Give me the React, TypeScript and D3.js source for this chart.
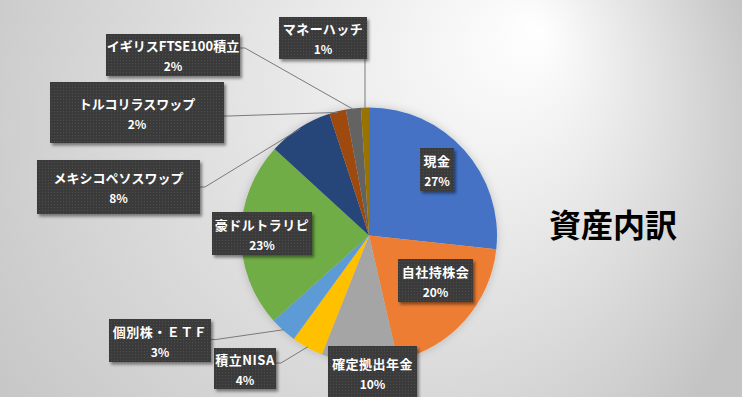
import React from "react";
import * as d3 from "d3";

const categories = [
  "現金",
  "自社持株会",
  "確定拠出年金",
  "積立NISA",
  "個別株・ＥＴＦ",
  "豪ドルトラリピ",
  "メキシコペソスワップ",
  "トルコリラスワップ",
  "イギリスFTSE100積立",
  "マネーハッチ",
];
const values = [26.7, 19.7, 9.6, 4.0, 3.4, 23.4, 8.2, 2.1, 1.9, 1.0];
const colors = [
  "#4472C4",
  "#ED7D31",
  "#A5A5A5",
  "#FFC000",
  "#5B9BD5",
  "#70AD47",
  "#264478",
  "#9E480E",
  "#636363",
  "#997300",
];
const title = "資産内訳";

// label box layout (x, y, w, h) and leader anchor
type Lay = { x: number; y: number; w: number; h: number; leader?: "right" | "bottom"; ay?: number };
const layout: Lay[] = [
  { x: 420, y: 148, w: 34, h: 43 },
  { x: 398, y: 259, w: 75, h: 43 },
  { x: 328, y: 346, w: 89, h: 53 },
  { x: 214, y: 348, w: 62, h: 41, leader: "right", ay: 363 },
  { x: 109, y: 319, w: 102, h: 43, leader: "right", ay: 339.5 },
  { x: 212, y: 212, w: 100, h: 43 },
  { x: 37, y: 160, w: 163, h: 54, leader: "right", ay: 187 },
  { x: 50, y: 82, w: 174, h: 61, leader: "right", ay: 116 },
  { x: 106, y: 34, w: 134, h: 42, leader: "right", ay: 48 },
  { x: 279, y: 17, w: 88, h: 42, leader: "bottom" },
];

const W = 742;
const H = 397;
const cx = 369;
const cy = 235.5;
const R = 128;

export default function App() {
  const total = d3.sum(values);
  const pie = d3
    .pie<number>()
    .sort(null)
    .value((d) => d)
    .startAngle(0)
    .endAngle(2 * Math.PI);
  const arcs = pie(values);
  const arc = d3.arc<d3.PieArcDatum<number>>().innerRadius(0).outerRadius(R);
  const edge = d3.arc<d3.PieArcDatum<number>>().innerRadius(R - 1).outerRadius(R - 1);
  const font = "'Noto Sans CJK JP', 'Noto Sans', sans-serif";

  return (
    <svg
      width={W}
      height={H}
      style={{ position: "absolute", left: 0, top: 0, display: "block" }}
    >
      <defs>
        <radialGradient
          id="bg"
          gradientUnits="userSpaceOnUse"
          cx={330}
          cy={150}
          r={440}
          fx={540}
          fy={30}
        >
          <stop offset="0" stopColor="#ffffff" />
          <stop offset="1" stopColor="#c4c4c4" />
        </radialGradient>
        <pattern id="dots" width="3" height="3" patternUnits="userSpaceOnUse">
          <rect width="3" height="3" fill="#3b3b3b" />
          <rect x="0" y="0" width="1" height="1" fill="#4d4d4d" />
        </pattern>
        <filter id="boxShadow" x="-20%" y="-20%" width="140%" height="150%">
          <feDropShadow dx="2" dy="2.5" stdDeviation="1.5" floodColor="#000" floodOpacity="0.45" />
        </filter>
        <filter id="pieShadow" x="-20%" y="-20%" width="140%" height="140%">
          <feDropShadow dx="0" dy="0" stdDeviation="4" floodColor="#000" floodOpacity="0.18" />
        </filter>
      </defs>
      <rect width={W} height={H} fill="url(#bg)" />

      <g transform={`translate(${cx},${cy})`} filter="url(#pieShadow)">
        {arcs.map((a, i) => (
          <path key={i} d={arc(a) || ""} fill={colors[i]} />
        ))}
      </g>

      {/* leader lines */}
      <g stroke="#7a7a7a" strokeWidth={1} fill="none">
        {arcs.map((a, i) => {
          const l = layout[i];
          if (!l.leader) return null;
          const [px, py] = edge.centroid(a);
          const ex = cx + px;
          const ey = cy + py;
          if (l.leader === "bottom") {
            return <path key={i} d={`M${ex},${l.y + l.h}L${ex},${ey}`} />;
          }
          const sx = l.x + l.w;
          const sy = l.ay ?? l.y + l.h / 2;
          return <path key={i} d={`M${sx},${sy}L${sx + 5},${sy}L${ex},${ey}`} />;
        })}
      </g>

      {/* label boxes */}
      {arcs.map((a, i) => {
        const l = layout[i];
        const mx = l.x + l.w / 2;
        const my = l.y + l.h / 2;
        const pct = Math.round((values[i] / total) * 100) + "%";
        return (
          <g key={i}>
            <rect
              x={l.x}
              y={l.y}
              width={l.w}
              height={l.h}
              fill="url(#dots)"
              filter="url(#boxShadow)"
            />
            <text
              x={mx}
              y={my - 9.5}
              textAnchor="middle"
              dominantBaseline="central"
              fill="#ffffff"
              fontFamily={font}
              fontWeight={700}
              fontSize={13}
              letterSpacing={categories[i].length > 8 ? 0 : 0.5}
            >
              {categories[i]}
            </text>
            <text
              x={mx}
              y={my + 10.5}
              textAnchor="middle"
              dominantBaseline="central"
              fill="#ffffff"
              fontFamily={font}
              fontWeight={700}
              fontSize={12}
            >
              {pct}
            </text>
          </g>
        );
      })}

      <text
        x={613}
        y={223}
        textAnchor="middle"
        dominantBaseline="central"
        fill="#000"
        fontFamily={font}
        fontWeight={700}
        fontSize={32}
      >
        {title}
      </text>
    </svg>
  );
}
